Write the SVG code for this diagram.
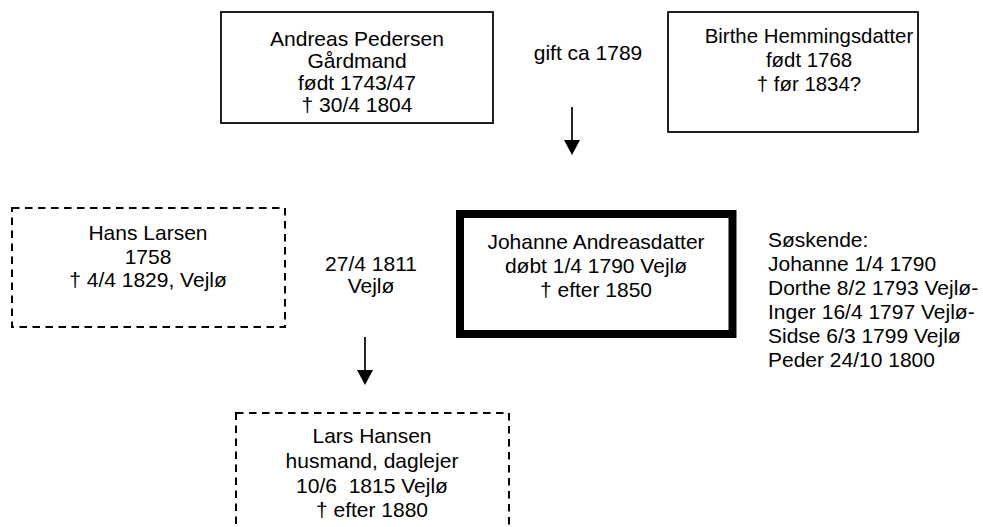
<svg xmlns="http://www.w3.org/2000/svg" width="983" height="527" viewBox="0 0 983 527">
<style>
text{font-family:"Liberation Sans",Arial,sans-serif;font-size:21px;fill:#000}
.c{text-anchor:middle}
.s{font-size:20.4px}
.box{fill:#fff;stroke:#000;stroke-width:1.75}
.dash{fill:#fff;stroke:#000;stroke-width:2;stroke-dasharray:7.5 5.5}
.thick{fill:#fff;stroke:#000;stroke-width:8}
.conn{stroke:#000;stroke-width:1.7;fill:none}
.head{fill:#000}
</style>
<rect width="983" height="527" fill="#fff"/>
<g id="connectors">
<line class="conn" x1="572" y1="107" x2="572" y2="141"/>
<path class="head" d="M564,140 L580,140 L572,155 Z"/>
<line class="conn" x1="365" y1="337" x2="365" y2="371"/>
<path class="head" d="M357,370 L373,370 L365,385 Z"/>
</g>
<g id="andreas">
<rect class="box" x="221" y="12" width="272" height="111"/>
<text class="c" x="357" y="46">Andreas Pedersen</text>
<text class="c" x="357" y="68">Gårdmand</text>
<text class="c" x="357" y="90">født 1743/47</text>
<text class="c" x="357" y="112">† 30/4 1804</text>
</g>
<g id="marriage1">
<text class="c" x="588" y="60">gift ca 1789</text>
</g>
<g id="birthe">
<rect class="box" x="668" y="12" width="250" height="120"/>
<text class="c s" x="809" y="43">Birthe Hemmingsdatter</text>
<text class="c s" x="809" y="67">født 1768</text>
<text class="c s" x="809" y="91">† før 1834?</text>
</g>
<g id="hans">
<rect class="dash" x="12" y="208" width="273" height="119"/>
<text class="c" x="148" y="240">Hans Larsen</text>
<text class="c" x="148" y="264">1758</text>
<text class="c" x="148" y="287">† 4/4 1829, Vejlø</text>
</g>
<g id="marriage2">
<text class="c" x="371" y="271">27/4 1811</text>
<text class="c" x="371" y="292.5">Vejlø</text>
</g>
<g id="johanne">
<rect class="thick" x="460" y="214" width="272.5" height="120"/>
<text class="c" x="596" y="249">Johanne Andreasdatter</text>
<text class="c" x="596" y="273">døbt 1/4 1790 Vejlø</text>
<text class="c" x="596" y="296.5">† efter 1850</text>
</g>
<g id="siblings">
<text x="768" y="246.5">Søskende:</text>
<text x="768" y="270.6">Johanne 1/4 1790</text>
<text x="768" y="294.7">Dorthe 8/2 1793 Vejlø-</text>
<text x="768" y="318.8">Inger 16/4 1797 Vejlø-</text>
<text x="768" y="342.9">Sidse 6/3 1799 Vejlø</text>
<text x="768" y="367">Peder 24/10 1800</text>
</g>
<g id="lars">
<rect class="dash" x="236" y="413" width="273" height="140"/>
<text class="c" x="372" y="443">Lars Hansen</text>
<text class="c" x="372" y="468">husmand, daglejer</text>
<text class="c" x="372" y="492.5" xml:space="preserve">10/6  1815 Vejlø</text>
<text class="c" x="372" y="517">† efter 1880</text>
</g>
</svg>
